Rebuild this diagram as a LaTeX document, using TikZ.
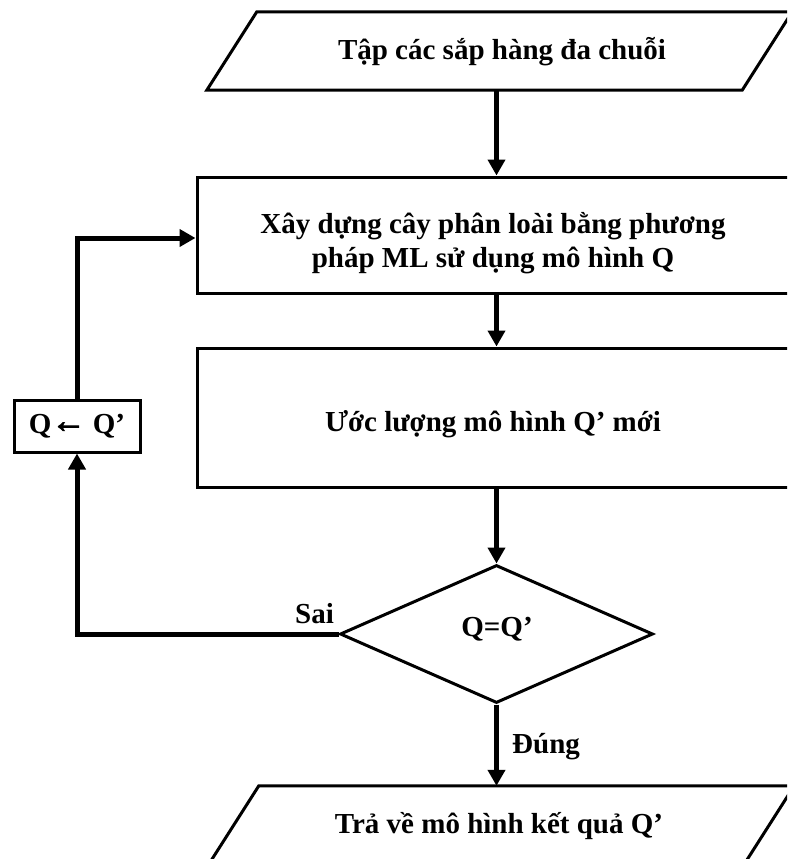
\documentclass[tikz,border=0pt]{standalone}
\usepackage{fontspec}
\setmainfont{Liberation Serif}
\newfontfamily\arrowfont[FakeBold=3]{Liberation Serif}
\usetikzlibrary{
  arrows.meta,
  positioning,
  shapes.geometric
}

\begin{document}
\begin{tikzpicture}[
  x=1pt, y=-1pt,
  font=\fontsize{29}{34}\selectfont\bfseries,
  boxline/.style={draw=black, line width=3pt, line join=miter},
  iobox/.style={
    rectangle, minimum width=535pt, minimum height=78pt, inner sep=0pt
  },
  procbox/.style={
    rectangle, boxline,
    minimum width=592pt, inner sep=0pt
  },
  testbox/.style={
    diamond, boxline,
    minimum width=313pt, minimum height=138pt, inner sep=0pt
  },
  swapbox/.style={
    rectangle, boxline,
    minimum width=126pt, minimum height=52pt, inner sep=0pt
  },
  arrow/.style={-{Triangle[length=16pt,width=17pt]}, black, line width=5pt},
  tag/.style={inner sep=0pt, align=center},
]
\clip (0,0) rectangle (787,859);
\useasboundingbox (0,0) rectangle (787,859);

% Input (parallelogram)
\node[iobox] (input) at (499.5,51) {};
\node[tag] (inputtext) at (502,52) {Tập các sắp hàng đa chuỗi};
\draw[boxline] ([xshift=-25pt]input.south west) -- ([xshift=25pt]input.north west)
  -- ([xshift=25pt]input.north east) -- ([xshift=-25pt]input.south east) -- cycle;

% Model building and estimation
\node[procbox, minimum height=116pt] (build) at (493,235) {};
\node[tag] (buildtext) at ([yshift=-8pt]build.center)
  {Xây dựng cây phân loài bằng phương\\pháp ML sử dụng mô hình Q};
\node[procbox, minimum height=139pt] (estim) at (493,417.5) {};
\node[tag] (estimtext) at ([yshift=-7pt]estim.center) {Ước lượng mô hình Q’ mới};

% Test
\node[testbox] (test) at (496.5,634) {};
\node[tag] (testtext) at (497,629) {Q=Q’};

% Result (parallelogram, cut by the page)
\node[iobox] (result) at (501.5,825) {};
\node[tag] (resulttext) at (499,826) {Trả về mô hình kết quả Q’};
\draw[boxline] ([xshift=-25pt]result.south west) -- ([xshift=25pt]result.north west)
  -- ([xshift=25pt]result.north east) -- ([xshift=-25pt]result.south east) -- cycle;

% Update box on the loop
\node[swapbox] (swap) at (77,426)
  {Q{\arrowfont\fontsize{34}{34}\selectfont\raisebox{1pt}{←}} Q’};

% Main flow
\draw[arrow] (input.south -| test.north) -- (build.north -| test.north);
\draw[arrow] (build.south -| test.north) -- (estim.north -| test.north);
\draw[arrow] (estim.south -| test.north) -- (test.north);
\draw[arrow] (test.south) -- (result.north -| test.south);

% Loop back
\draw[arrow] (test.west) -| (swap.south);
\draw[arrow] (swap.north) |- ([yshift=-3pt]build.west);

% Branch labels
\node[tag, anchor=base west] (nolabel) at (295,623) {Sai};
\node[tag, anchor=base west] (yeslabel) at (512,753) {Đúng};
\end{tikzpicture}
\end{document}
